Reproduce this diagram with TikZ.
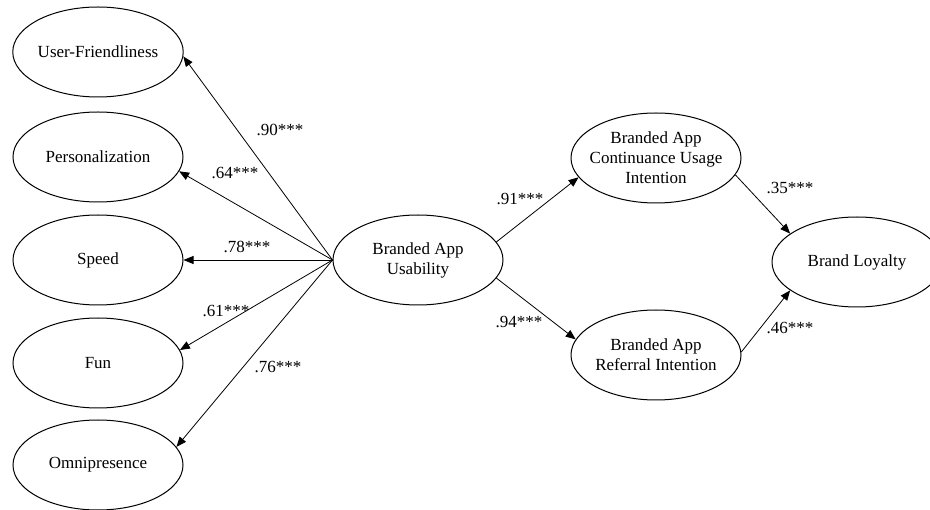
\documentclass[tikz,border=0pt]{standalone}
\usepackage{fontspec}
\setmainfont{Liberation Serif}
\usetikzlibrary{shapes.geometric,arrows.meta}
\begin{document}
\begin{tikzpicture}[x=1pt,y=-1pt,
  lat/.style={ellipse,draw,line width=1pt,minimum width=170pt,minimum height=90pt,inner sep=0pt,align=center,font=\fontsize{17}{20}\selectfont},
  path/.style={draw,line width=0.8pt,-{Triangle[length=10pt,width=8pt]}},
  coef/.style={font=\fontsize{17}{20}\selectfont,inner sep=0pt}]
\useasboundingbox (0,0) rectangle (930,510);
\node[lat] (uf) at (98,52) {User-Friendliness};
\node[lat] (pe) at (98,157) {Personalization};
\node[lat] (sp) at (98,260) {Speed};
\node[lat] (fu) at (98,363) {Fun};
\node[lat] (om) at (98,465) {Omnipresence};
\node[lat] (us) at (418,260) {Branded App\\Usability};
\node[lat,inner xsep=-25pt,inner ysep=-5pt] (cu) at (656,158) {Branded App\\Continuance Usage\\Intention};
\node[lat,inner xsep=-20pt] (re) at (656,355) {Branded App\\Referral Intention};
\node[lat] (bl) at (857,262) {Brand Loyalty};
\draw[path] (us.west) -- (uf.-3);
\draw[path] (us.west) -- (pe.-10);
\draw[path] (us.west) -- (sp.east);
\draw[path] (us.west) -- (fu.9);
\draw[path] (us.west) -- (om.13);
\draw[path] (us.13.5) -- (cu.-166);
\draw[path] (us.-13.4) -- (re.169);
\draw[path] (cu.-12) -- (bl.157);
\draw[path] (re.2) -- (bl.-157);
\node[coef] (l1) at (280,130) {.90***};
\node[coef] (l2) at (235,173) {.64***};
\node[coef] (l3) at (247,247) {.78***};
\node[coef] (l4) at (226,311) {.61***};
\node[coef] (l5) at (278,367) {.76***};
\node[coef] (l6) at (520,199) {.91***};
\node[coef] (l7) at (519,322) {.94***};
\node[coef] (l8) at (790,188) {.35***};
\node[coef] (l9) at (790,328) {.46***};
\end{tikzpicture}
\end{document}
